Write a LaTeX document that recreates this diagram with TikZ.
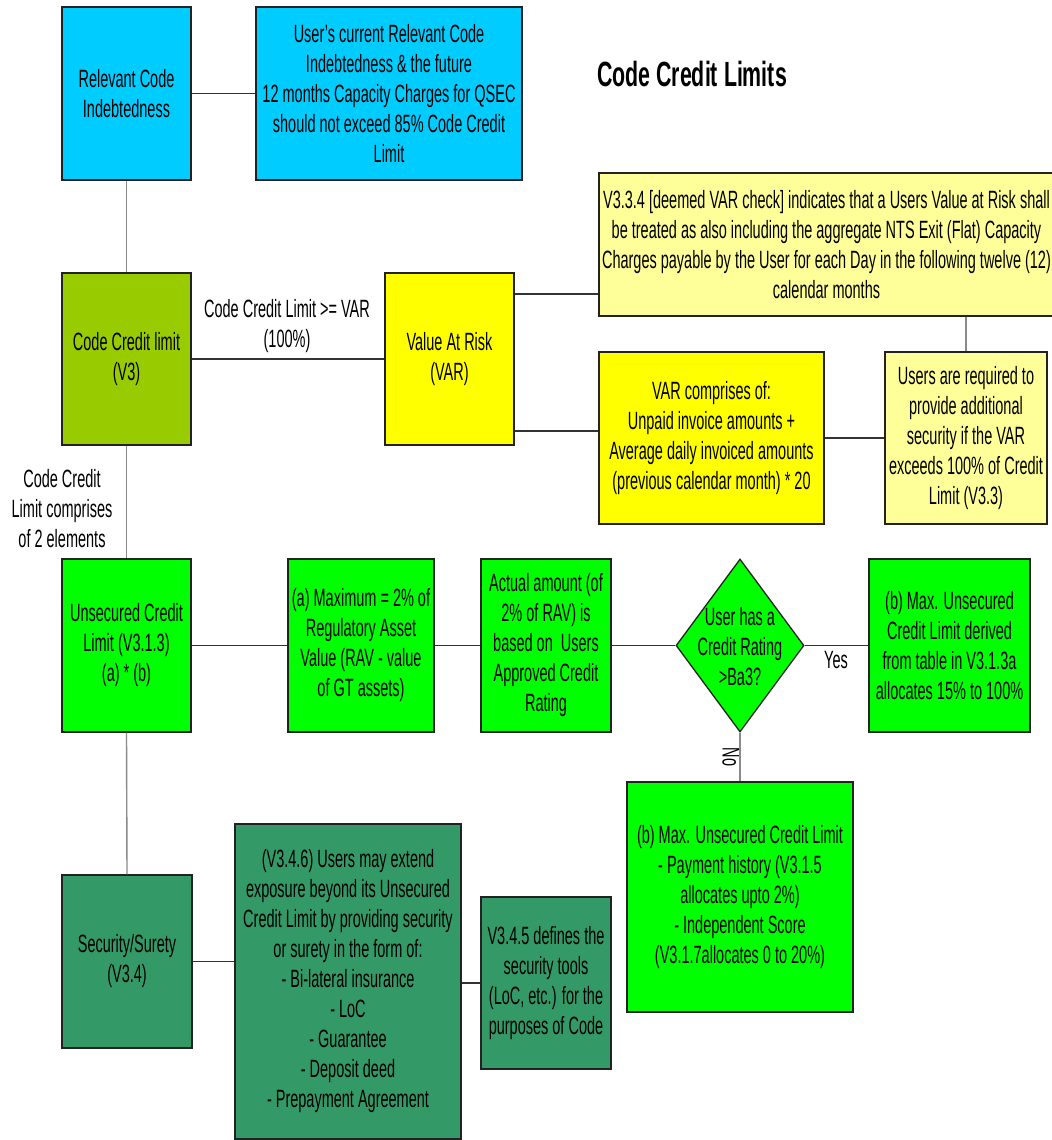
\documentclass[tikz,border=0pt]{standalone}
\usepackage{fontspec}
\setmainfont[FakeStretch=0.58,Ligatures=TeX]{Liberation Sans}
\newfontfamily\titlefont[FakeStretch=0.61]{Liberation Sans}
\usetikzlibrary{shapes.geometric}
\definecolor{cyanB}{HTML}{00CCFF}
\definecolor{oliveB}{HTML}{99CC00}
\definecolor{yellowB}{HTML}{FFFF00}
\definecolor{lyellowB}{HTML}{FFFF99}
\definecolor{greenB}{HTML}{00FF00}
\definecolor{seaB}{HTML}{339966}
\definecolor{edgeC}{HTML}{222222}
\definecolor{hlineC}{HTML}{333333}
\definecolor{vlineC}{HTML}{8A8A8A}
\tikzset{
  box/.style={draw=edgeC, line width=0.65pt, rectangle, inner sep=0pt, align=center,
    font=\fontsize{12.5}{15}\selectfont},
  dbox/.style={draw=edgeC, line width=0.65pt, diamond, inner sep=0pt},
  hlink/.style={draw=hlineC, line width=0.7pt},
  vlink/.style={draw=vlineC, line width=0.7pt},
  lbl/.style={align=center, inner sep=0pt, font=\fontsize{12.5}{15}\selectfont},
}
\begin{document}
\begin{tikzpicture}[x=0.5pt,y=-0.5pt]
\useasboundingbox[fill=white] (0,0) rectangle (1052,1140);

% title
\node[inner sep=0pt, font=\titlefont\bfseries\fontsize{17.5}{21}\selectfont] (title) at (692,74) {Code Credit Limits};

% boxes
\node[box, fill=cyanB, minimum width=64.5pt, minimum height=86.5pt] (rci) at (126.5,93.5) {Relevant Code\\Indebtedness};
\node[box, fill=cyanB, minimum width=133pt, minimum height=86.5pt] (user) at (389,93.5) {User's current Relevant Code\\Indebtedness \& the future\\12 months Capacity Charges for QSEC\\should not exceed 85\% Code Credit\\Limit};
\node[box, fill=oliveB, minimum width=64.5pt, minimum height=86pt] (ccl) at (126.5,359) {Code Credit limit\\(V3)};
\node[box, fill=yellowB, minimum width=64.5pt, minimum height=86pt] (var) at (449.5,359) {Value At Risk\\(VAR)};
\node[box, fill=lyellowB, minimum width=227.5pt, minimum height=71.5pt] (v334) at (826.5,244.5) {V3.3.4 [deemed VAR check] indicates that a Users Value at Risk shall\\be treated as also including the aggregate NTS Exit (Flat) Capacity\\Charges payable by the User for each Day in the following twelve (12)\\calendar months};
\node[box, fill=yellowB, minimum width=112.5pt, minimum height=86pt] (varc) at (711.5,438) {VAR comprises of:\\Unpaid invoice amounts +\\Average daily invoiced amounts\\(previous calendar month) * 20};
\node[box, fill=lyellowB, minimum width=81pt, minimum height=86pt] (usreq) at (966,438) {Users are required to\\provide additional\\security if the VAR\\exceeds 100\% of Credit\\Limit (V3.3)};
\node[box, fill=greenB, minimum width=64.5pt, minimum height=86.5pt] (uns) at (126.5,645.5) {Unsecured Credit\\Limit (V3.1.3)\\(a) * (b)};
\node[box, fill=greenB, minimum width=73pt, minimum height=86.5pt] (amax) at (361,645.5) {(a) Maximum = 2\% of\\Regulatory Asset\\Value (RAV - value\\of GT assets)};
\node[box, fill=greenB, minimum width=65pt, minimum height=86.5pt] (act) at (546,645.5) {Actual amount (of\\2\% of RAV) is\\based on~ Users\\Approved Credit\\Rating};
\node[dbox, fill=greenB, minimum width=64pt, minimum height=86.5pt] (dia) at (740,645.5) {};
\node[lbl] (diatext) at (740,647) {User has a\\Credit Rating\\>Ba3?};
\node[box, fill=greenB, minimum width=80.5pt, minimum height=86.5pt] (bmax) at (949.5,645.5) {(b) Max. Unsecured\\Credit Limit derived\\from table in V3.1.3a\\allocates 15\% to 100\%};
\node[box, fill=greenB, minimum width=113pt, minimum height=115pt] (blow) at (740,897) {(b) Max. Unsecured Credit Limit\\- Payment history (V3.1.5\\allocates upto 2\%)\\- Independent Score\\(V3.1.7allocates 0 to 20\%)};
\node[box, fill=seaB, minimum width=65pt, minimum height=86.5pt] (sec) at (127,961.5) {Security/Surety\\(V3.4)};
\node[box, fill=seaB, minimum width=113pt, minimum height=157.5pt] (v346) at (348,981.5) {(V3.4.6) Users may extend\\exposure beyond its Unsecured\\Credit Limit by providing security\\or surety in the form of:\\- Bi-lateral insurance\\- LoC\\- Guarantee\\- Deposit deed\\- Prepayment Agreement};
\node[box, fill=seaB, minimum width=65pt, minimum height=86pt] (v345) at (546,983) {V3.4.5 defines the\\security tools\\(LoC, etc.) for the\\purposes of Code};

% labels
\node[lbl] (lcv) at (287,326) {Code Credit Limit >= VAR\\(100\%)};
\node[lbl] (lcomp) at (62,509) {Code Credit\\Limit comprises\\of 2 elements};
\node[lbl] (lyes) at (836,660) {Yes};
\node[lbl, rotate=-90] (lno) at (731,757) {No};

% connectors
\draw[vlink] (rci.south) -- (ccl.north);
\draw[vlink] (ccl.south) -- (uns.north);
\draw[vlink] (uns.south) -- (sec.north);
\draw[hlink] (rci.east) -- (user.west);
\draw[hlink] (ccl.east) -- (var.west);
\draw[hlink] (var.east |- {(0,294)}) -- (v334.west |- {(0,294)});
\draw[hlink] (var.east |- {(0,431)}) -- (varc.west |- {(0,431)});
\draw[hlink] (varc.east) -- (usreq.west);
\draw[vlink] (usreq.north |- v334.south) -- (usreq.north);
\draw[hlink] (uns.east) -- (amax.west);
\draw[hlink] (amax.east) -- (act.west);
\draw[hlink] (act.east) -- (dia.west);
\draw[hlink] (dia.east) -- (bmax.west);
\draw[vlink] (dia.south) -- (blow.north);
\draw[hlink] (sec.east) -- (v346.west |- sec.east);
\draw[hlink] (v346.east |- v345.west) -- (v345.west);
\end{tikzpicture}
\end{document}
